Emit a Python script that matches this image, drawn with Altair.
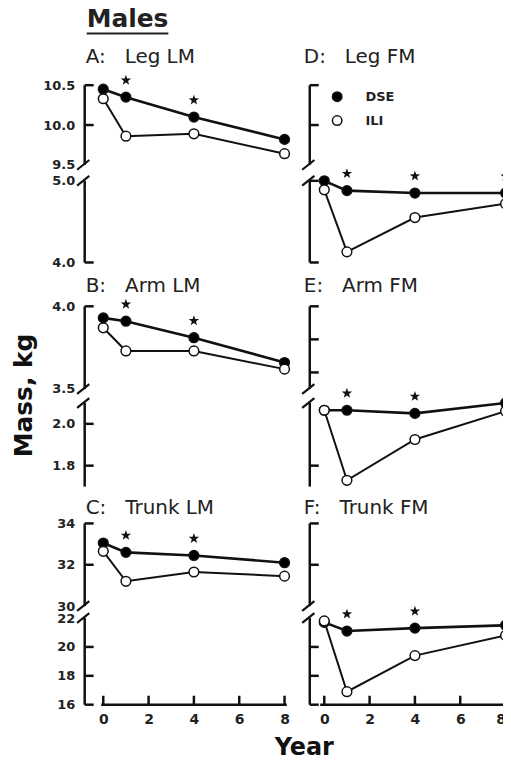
import altair as alt
import pandas as pd

FONT = "DejaVu Sans"
INK = "#111111"

# ---------------- data ----------------
years = [0, 1, 4, 8]
series_names = ["DSE", "ILI"]
x_tick_values = [0, 2, 4, 6, 8]

# A: Leg LM
leg_lm_dse = [10.45, 10.35, 10.10, 9.82]
leg_lm_ili = [10.33, 9.86, 9.89, 9.64]
# B: Arm LM
arm_lm_dse = [3.93, 3.91, 3.81, 3.66]
arm_lm_ili = [3.87, 3.73, 3.73, 3.62]
# C: Trunk LM
trunk_lm_dse = [33.05, 32.60, 32.45, 32.10]
trunk_lm_ili = [32.65, 31.20, 31.65, 31.45]
# D: Leg FM
leg_fm_dse = [5.00, 4.88, 4.85, 4.85]
leg_fm_ili = [4.89, 4.13, 4.55, 4.72]
# E: Arm FM
arm_fm_dse = [2.065, 2.065, 2.05, 2.10]
arm_fm_ili = [2.065, 1.73, 1.925, 2.06]
# F: Trunk FM
trunk_fm_dse = [21.70, 21.10, 21.30, 21.50]
trunk_fm_ili = [21.80, 16.90, 19.40, 20.80]

# years marked with a significance star
stars_a = [1, 4]
stars_b = [1, 4]
stars_c = [1, 4]
stars_d = [1, 4, 8]
stars_e = [1, 4]
stars_f = [1, 4]

# broken-axis domains (bottom, top of lower part, bottom of upper part, top)
row_domains = [
    [4.0, 5.0, 9.5, 10.5],
    [1.7, 2.1, 3.5, 4.0],
    [16, 22, 30, 34],
]
# tick labels on the left axes
labels_a = [4.0, 5.0, 9.5, 10.0, 10.5]
labels_b = [1.8, 2.0, 3.5, 4.0]
labels_c = [16, 18, 20, 22, 30, 32, 34]
# inward tick marks
ticks_a = [10.5, 10.0, 4.0]
ticks_d = [10.5, 10.0, 5.0, 4.0]
ticks_b = [4.0, 2.0, 1.8]
ticks_e = [4.0, 3.8, 3.6, 1.8]
ticks_c = [34, 32, 20, 18, 16]
ticks_f = [34, 32, 20, 18, 16]

# ---------------- layout ----------------
panel_widths = [206, 198]
row_heights = [210, 199, 200]
row_ranges = [
    [185, 103, 87, 7],
    [190, 106, 92, 9],
    [200, 113, 101, 18],
]
x_domains = [[-0.82, 8.235], [-0.64, 8.063]]
x_line = [[-0.09, 8.1], [-0.18, 8.063]]
title_y = [-15, -5, 9]
title_x = [1, -6]


def make_panel(title, dse_vals, ili_vals, star_years, row, col, ticks,
               labels=None, label_fmt=".1f", ytitle=None, show_x=False,
               xtitle=None, legend=False, males=False):
    h = row_heights[row]
    dom = row_domains[row]
    clip = col == 1
    yscale = alt.Scale(domain=dom, range=row_ranges[row], zero=False, nice=False)
    xscale = alt.Scale(domain=x_domains[col], zero=False, nice=False)

    if labels is not None:
        ax_kw = dict(values=labels, format=label_fmt, domain=False, ticks=False,
                     grid=False, labelPadding=10, labelFont=FONT, labelFontSize=13,
                     labelFontWeight="bold", labelColor="#222222", labelOverlap=False)
        if ytitle:
            ax_kw.update(title=ytitle, titleFont=FONT, titleFontSize=25,
                         titleFontWeight="bold", titleColor=INK, titleX=-61,
                         titleY=98, titleAngle=270, titleAlign="center",
                         titleBaseline="middle")
        else:
            ax_kw.update(title=None)
        yaxis = alt.Axis(**ax_kw)
    else:
        yaxis = None

    if show_x:
        xk = dict(values=x_tick_values, format="d", domain=False, ticks=False,
                  grid=False, labelPadding=8, labelFont=FONT, labelFontSize=14,
                  labelFontWeight="bold", labelColor="#222222",
                  labelFlush=6 if col == 1 else False, labelOverlap=False)
        if xtitle:
            xk.update(title=xtitle, titleFont=FONT, titleFontSize=24,
                      titleFontWeight="bold", titleColor=INK, titleX=-6,
                      titleY=50, titleAlign="center", titleBaseline="alphabetic")
        else:
            xk.update(title=None)
        xaxis = alt.Axis(**xk)
    else:
        xaxis = None

    def X():
        return alt.X("t:Q", scale=xscale, axis=xaxis)

    def Y():
        return alt.Y("v:Q", scale=yscale, axis=yaxis)

    pts = pd.DataFrame({
        "t": years * 2,
        "v": dse_vals + ili_vals,
        "g": ["DSE"] * len(years) + ["ILI"] * len(years),
        "o": list(range(2 * len(years))),
    })
    dse_df = pts[pts.g == "DSE"]
    ili_df = pts[pts.g == "ILI"]
    star_df = pd.DataFrame({"t": star_years,
                            "v": [dse_vals[years.index(s)] for s in star_years]})

    seg_df = pd.DataFrame({"v": [dom[2], dom[0]], "v2": [dom[3], dom[1]]})
    brk_df = pd.DataFrame({"v": [dom[2], dom[1]]})
    tick_df = pd.DataFrame({"v": ticks})

    layers = []
    # axis segments
    layers.append(alt.Chart(seg_df).mark_rule(color=INK, strokeWidth=2.5).encode(
        x=alt.value(0), y=Y(), y2="v2:Q"))
    layers.append(alt.Chart(tick_df).mark_rule(color=INK, strokeWidth=2.5).encode(
        x=alt.value(0), x2=alt.value(9), y=Y()))
    layers.append(alt.Chart(brk_df).mark_point(
        shape="M-1,0.8L1,-0.8", size=150, filled=False, color=INK,
        strokeWidth=2.2, opacity=1).encode(x=alt.value(-1.5), y=Y()))

    if show_x:
        xl = pd.DataFrame({"t": [x_line[col][0]], "t2": [x_line[col][1]]})
        layers.append(alt.Chart(xl).mark_rule(color=INK, strokeWidth=2.5).encode(
            x=X(), x2="t2:Q", y=alt.value(h)))
        xt = pd.DataFrame({"t": x_tick_values})
        layers.append(alt.Chart(xt).mark_rule(color=INK, strokeWidth=2.5,
                                              clip=clip).encode(
            x=X(), y=alt.value(h), y2=alt.value(h - 9)))

    # lines
    layers.append(alt.Chart(ili_df).mark_line(color=INK, strokeWidth=2,
                                              clip=clip).encode(
        x=X(), y=Y(), order="o:Q"))
    layers.append(alt.Chart(dse_df).mark_line(color=INK, strokeWidth=2.6,
                                              clip=clip).encode(
        x=X(), y=Y(), order="o:Q"))

    # points (DSE first, ILI on top)
    if legend:
        leg = alt.Legend(orient="none", legendX=21, legendY=12, title=None,
                         symbolType="circle", symbolSize=90, symbolStrokeColor=INK,
                         symbolStrokeWidth=1.5, symbolOpacity=1, labelFont=FONT,
                         labelFontSize=13, labelFontWeight="bold", labelColor="#222222",
                         labelOffset=22, rowPadding=7)
    else:
        leg = None
    layers.append(alt.Chart(pts).mark_circle(size=95, stroke=INK, strokeWidth=1.5,
                                               opacity=1, clip=clip).encode(
        x=X(), y=Y(),
        fill=alt.Fill("g:N", scale=alt.Scale(domain=series_names,
                                             range=["#000000", "#ffffff"]),
                      legend=leg),
        order="o:Q"))

    # stars
    star_shape = ("M0,-1L0.235,-0.324L0.951,-0.309L0.38,0.124L0.588,0.809L0,0.4"
                  "L-0.588,0.809L-0.38,0.124L-0.951,-0.309L-0.235,-0.324Z")
    layers.append(alt.Chart(star_df).mark_point(
        shape=star_shape, size=120, filled=True, color=INK, opacity=1,
        yOffset=-17, clip=clip).encode(x=X(), y=Y()))

    # panel title
    layers.append(alt.Chart(pd.DataFrame({"s": [title]})).mark_text(
        align="left", baseline="alphabetic", font=FONT, fontSize=20,
        color="#222222").encode(text="s:N", x=alt.value(title_x[col]),
                                y=alt.value(title_y[row])))

    if males:
        layers.append(alt.Chart(pd.DataFrame({"s": ["Males"]})).mark_text(
            align="left", baseline="alphabetic", font=FONT, fontSize=25,
            fontWeight="bold", color="#222222").encode(
            text="s:N", x=alt.value(2), y=alt.value(-51)))
        layers.append(alt.Chart(pd.DataFrame({"s": ["Males"]})).mark_rule(
            color="#222222", strokeWidth=2).encode(
            x=alt.value(2), x2=alt.value(84), y=alt.value(-45)))

    return alt.layer(*layers).properties(width=panel_widths[col], height=h)


GAP = "\u00a0\u00a0 "
pa = make_panel(f"A:{GAP}Leg LM", leg_lm_dse, leg_lm_ili, stars_a, 0, 0, ticks_a,
                labels=labels_a, males=True)
pd_ = make_panel(f"D:{GAP}Leg FM", leg_fm_dse, leg_fm_ili, stars_d, 0, 1, ticks_d,
                 legend=True)
pb = make_panel(f"B:{GAP}Arm LM", arm_lm_dse, arm_lm_ili, stars_b, 1, 0, ticks_b,
                labels=labels_b, ytitle="Mass, kg")
pe = make_panel(f"E:{GAP}Arm FM", arm_fm_dse, arm_fm_ili, stars_e, 1, 1, ticks_e)
pc = make_panel(f"C:{GAP}Trunk LM", trunk_lm_dse, trunk_lm_ili, stars_c, 2, 0, ticks_c,
                labels=labels_c, label_fmt="d", show_x=True)
pf = make_panel(f"F:{GAP}Trunk FM", trunk_fm_dse, trunk_fm_ili, stars_f, 2, 1, ticks_f,
                show_x=True, xtitle="Year")

chart = alt.concat(pa, pd_, pb, pe, pc, pf, columns=2, align="each",
                   spacing={"row": 10, "column": 20}, bounds="flush").properties(
    padding={"left": 4, "top": -2, "right": -6, "bottom": -4},
    background="white",
).resolve_legend(fill="independent").configure(font=FONT).configure_view(
    strokeWidth=0, stroke="transparent")

chart.save("out.html", embed_options={"renderer": "svg", "actions": False})
